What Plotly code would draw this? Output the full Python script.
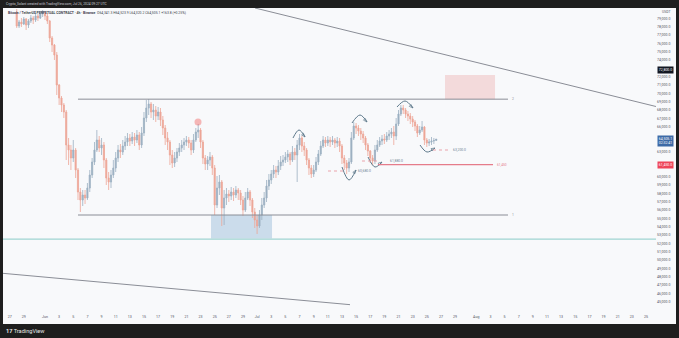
import plotly.graph_objects as go
import pandas as pd

# ---------------- data (8h candles) ----------------
symbol_line = "Bitcoin / TetherUS PERPETUAL CONTRACT · 4h · Binance"
ohlc_line = "O64,341.3 H64,523.9 L64,320.2 C64,505.1 +163.8 (+0.25%)"
first_open = 79760
start_time = "2024-05-28 00:00"

close = [78080, 78560, 78320, 78920, 78200, 78680, 79040, 78800, 79280, 79040,
         79520, 79640, 79280, 78680, 76640, 75800, 74600, 71000, 69440, 68600,
         67760, 63800, 63200, 62240, 63200, 60800, 58160, 57200, 57800, 57440,
         58640, 60200, 61760, 63200, 64400, 63440, 63800, 62000, 59840, 59360,
         60200, 61040, 62240, 63200, 62960, 63680, 64160, 64640, 64280, 64760,
         64400, 65000, 63800, 65240, 67040, 68240, 68720, 67760, 68000, 67280,
         67760, 66800, 65840, 64640, 64160, 62600, 61640, 62240, 62960, 63440,
         63800, 64160, 64400, 64040, 63200, 64400, 65360, 65600, 64160, 62240,
         61520, 62000, 62360, 61040, 56600, 58640, 59360, 56240, 57440, 57920,
         57680, 58160, 57800, 58400, 58040, 57200, 56000, 57440, 58160, 57200,
         55760, 54800, 54080, 55400, 56600, 57440, 58880, 59600, 60320, 60800,
         60560, 61280, 61760, 62000, 62360, 62720, 62000, 62960, 62600, 63800,
         64640, 63680, 63200, 62000, 61040, 60320, 60800, 61760, 62720, 63680,
         64400, 64040, 64400, 64160, 64400, 64040, 64280, 63680, 62240, 61640,
         61040, 61760, 64640, 66080, 65840, 65480, 65120, 64640, 63800, 63080,
         62240, 61880, 63200, 63800, 64280, 64520, 64400, 64880, 65120, 65360,
         64880, 66320, 67520, 68240, 68000, 67520, 67280, 66920, 66560, 66080,
         65240, 65600, 65960, 64400, 64040, 64160, 64280, 64341.3, 64505.1]

high = [80120, 78800, 79040, 79160, 79040, 78920, 79400, 79280, 79640, 79520,
        79880, 80000, 79880, 79640, 78800, 76880, 75920, 74960, 71120, 69680,
        68840, 68000, 64640, 63800, 64400, 63440, 61040, 58640, 58400, 58400,
        59240, 60800, 62240, 64160, 65600, 64880, 64640, 64160, 62240, 60560,
        60800, 62000, 62960, 63800, 63920, 64400, 64880, 65240, 65120, 65360,
        65240, 65600, 65360, 65960, 67760, 69200, 69320, 68960, 68720, 68480,
        68360, 68240, 67280, 66200, 65360, 64400, 63200, 62960, 63440, 64040,
        64400, 64640, 64880, 64760, 64400, 65120, 65840, 66320, 65840, 64400,
        62600, 62480, 62960, 62600, 61400, 60080, 60200, 59600, 58400, 58640,
        58400, 58760, 58640, 58880, 58640, 58400, 57680, 58160, 58640, 58400,
        57440, 56240, 55400, 56000, 57440, 58160, 59600, 60320, 60800, 61400,
        61280, 62000, 62480, 62600, 62960, 63200, 62960, 63680, 63440, 64400,
        65120, 64880, 64160, 63440, 62240, 61400, 61400, 62360, 63200, 64280,
        64880, 64760, 64880, 64760, 64880, 64640, 64760, 64640, 63920, 62600,
        62000, 62240, 65360, 66560, 66440, 66200, 65840, 65480, 64880, 64040,
        63200, 62600, 63800, 64400, 64760, 65000, 65120, 65360, 65600, 65840,
        66080, 67040, 68000, 68600, 68600, 68240, 67880, 67640, 67280, 66800,
        66320, 66080, 66680, 66080, 64640, 64520, 64760, 64640, 64523.9]

low = [77840, 77840, 77960, 78200, 77600, 77840, 78440, 78320, 78560, 78680,
       78920, 79160, 78800, 78320, 76160, 74960, 74000, 69800, 68600, 67760,
       67040, 62000, 61400, 60800, 61760, 59840, 57200, 55760, 56480, 56720,
       57200, 58160, 59840, 61400, 62960, 62960, 62600, 61040, 59000, 58400,
       58640, 59840, 60560, 61760, 62240, 62600, 63200, 63680, 63680, 63920,
       63680, 64040, 63200, 63440, 64880, 66560, 67400, 67040, 66800, 66560,
       66800, 66080, 65000, 63800, 63200, 61400, 61040, 61160, 61760, 62480,
       62960, 63200, 63680, 63440, 62600, 62840, 64160, 64640, 63440, 61520,
       60800, 60800, 61280, 60200, 55400, 56240, 57800, 54080, 54200, 56600,
       56960, 57200, 57080, 57440, 57200, 56600, 55280, 55760, 57200, 56480,
       55040, 53840, 53120, 53840, 54800, 56240, 56960, 58400, 59120, 59840,
       59840, 60200, 60800, 61280, 61640, 61760, 61400, 61760, 62000, 59360,
       63200, 62960, 62480, 61400, 60200, 59840, 59960, 60560, 61400, 62480,
       63440, 63560, 63680, 63560, 63800, 63440, 63560, 62960, 61520, 60800,
       60320, 60560, 61520, 64400, 65120, 64880, 64400, 64040, 63200, 62480,
       61640, 61400, 61520, 62960, 63560, 63800, 63920, 64160, 64400, 64640,
       63800, 64400, 66080, 67280, 67520, 67040, 66680, 66320, 65960, 65480,
       64760, 65000, 65360, 63800, 63560, 63680, 63800, 63920, 64320.2]

last_price = 64505.1
countdown = "02:32:41"
marker_price = 72800
price_ticks_all = list(range(45000, 80000, 1000))
month_ticks = {"2024-06-01": "Jun", "2024-07-01": "Jul", "2024-08-01": "Aug"}

# ---------------- drawings (TradingView objects, data coordinates) ----------------
range_top, range_bottom = 69300, 55400
range_x = ("2024-06-05 16:00", "2024-08-05 11:40")
red_level = 61450
red_x = ("2024-07-18 02:20", "2024-08-03 08:50")
teal_level = 52500
pink_box = ("2024-07-27 13:50", "2024-08-03 15:40", 69300, 72200)
blue_box = ("2024-06-24 11:30", "2024-07-03 02:40", 52580, 55400)
upper_trend = (("2024-06-30 16:50", 80240), ("2024-08-26 10:00", 68420))
lower_trend = (("2024-05-26 01:30", 48400), ("2024-07-14 03:20", 44640))
circle_pt = ("2024-06-22 15:25", 66560)
arcs = [
    (["2024-07-06 01:54", "2024-07-06 22:12", "2024-07-07 18:36"], [64640, 65600, 64760]),
    (["2024-07-13 00:12", "2024-07-14 00:00", "2024-07-14 23:42"], [61160, 59600, 60800]),
    (["2024-07-14 10:06", "2024-07-15 13:18", "2024-07-16 13:06"], [66440, 67400, 66560]),
    (["2024-07-16 16:30", "2024-07-17 16:12", "2024-07-18 16:00"], [62360, 61160, 61760]),
    (["2024-07-20 18:54", "2024-07-21 22:06", "2024-07-23 01:12"], [68360, 69080, 68240]),
    (["2024-07-24 01:00", "2024-07-25 00:42", "2024-07-26 03:54"], [63800, 62960, 63440]),
]
dotted = [
    ("2024-07-11 00:40", "2024-07-13 10:20", 60680, "2024-07-16 03:00"),
    ("2024-07-15 20:00", "2024-07-17 23:00", 61880, "2024-07-20 15:30"),
    ("2024-07-25 21:00", "2024-07-28 06:50", 63200, "2024-07-29 13:30"),
]

# ---------------- figure ----------------
W, H = 679, 338
ML, MR, MT, MB = 3, 23, 8, 25
PW, PH = W - ML - MR, H - MT - MB


def px_x(p):
    return (p - ML) / PW


def px_y(p):
    return (H - MB - p) / PH


opens = [first_open] + close[:-1]
times = pd.date_range(start_time, periods=len(close), freq="8h")

UP, DOWN = "#9cb0c2", "#eda697"
FONT = "Roboto, Arial, sans-serif"
BG = "#f8f9fb"
DARK = "#1e1e1e"
GREY = "#8a8d96"

fig = go.Figure()
fig.add_trace(go.Candlestick(
    x=times, open=opens, high=high, low=low, close=close,
    increasing=dict(line=dict(color=UP, width=0.8), fillcolor=UP),
    decreasing=dict(line=dict(color=DOWN, width=0.8), fillcolor=DOWN),
    whiskerwidth=0, showlegend=False, hoverinfo="skip"))

for xs, ys in arcs:
    fig.add_trace(go.Scatter(
        x=xs, y=ys, mode="lines+markers",
        line=dict(color="#5f7a8c", width=1, shape="spline"),
        marker=dict(symbol="arrow-open", size=[0, 0, 4], angleref="previous",
                    color="#5f7a8c", line=dict(color="#5f7a8c", width=1)),
        showlegend=False, hoverinfo="skip"))

fig.add_trace(go.Scatter(
    x=[circle_pt[0]], y=[circle_pt[1]], mode="markers",
    marker=dict(size=7, color="rgba(239,83,80,0.4)"),
    showlegend=False, hoverinfo="skip"))

shapes = [
    dict(type="rect", xref="paper", yref="paper", x0=0, x1=px_x(676),
         y0=px_y(324), y1=1, fillcolor=BG, line=dict(width=0), layer="below"),
    dict(type="rect", xref="x", yref="y", x0=blue_box[0], x1=blue_box[1],
         y0=blue_box[2], y1=blue_box[3], fillcolor="rgba(120,165,205,0.35)",
         line=dict(width=0), layer="below"),
    dict(type="rect", xref="x", yref="y", x0=pink_box[0], x1=pink_box[1],
         y0=pink_box[2], y1=pink_box[3], fillcolor="rgba(236,160,160,0.35)",
         line=dict(width=0), layer="below"),
    dict(type="line", xref="x", yref="y", x0=range_x[0], x1=range_x[1],
         y0=range_top, y1=range_top, line=dict(color=GREY, width=1)),
    dict(type="line", xref="x", yref="y", x0=range_x[0], x1=range_x[1],
         y0=range_bottom, y1=range_bottom, line=dict(color=GREY, width=1)),
    dict(type="line", xref="x", yref="y", x0=red_x[0], x1=red_x[1],
         y0=red_level, y1=red_level, line=dict(color="#e57c8a", width=1.2)),
    dict(type="line", xref="paper", yref="y", x0=0, x1=1,
         y0=teal_level, y1=teal_level, line=dict(color="#9fd4d2", width=1.2)),
    dict(type="line", xref="x", yref="y", x0=upper_trend[0][0], y0=upper_trend[0][1],
         x1=upper_trend[1][0], y1=upper_trend[1][1], line=dict(color=GREY, width=1)),
    dict(type="line", xref="x", yref="y", x0=lower_trend[0][0], y0=lower_trend[0][1],
         x1=lower_trend[1][0], y1=lower_trend[1][1], line=dict(color=GREY, width=1)),
]
for x0, x1, lvl, _ in dotted:
    shapes.append(dict(type="line", xref="x", yref="y", x0=x0, x1=x1, y0=lvl, y1=lvl,
                       line=dict(color="#eaa3ab", width=1, dash="dot")))

ann = []
small = dict(family=FONT, size=3.4, color="#6f8598")
for _, _, lvl, lx in dotted:
    ann.append(dict(x=lx, y=lvl, xref="x", yref="y", text=f"{lvl:,.1f}",
                    showarrow=False, font=small))
ann.append(dict(x="2024-08-04 16:00", y=red_level, xref="x", yref="y",
                text=f"{red_level:,.0f}", showarrow=False,
                font=dict(family=FONT, size=3.2, color="#e57c8a")))
for lvl, t in ((range_top, "2"), (range_bottom, "1")):
    ann.append(dict(x="2024-08-06 06:00", y=lvl, xref="x", yref="y", text=t,
                    showarrow=False, font=dict(family=FONT, size=3.4, color=GREY)))

# header / footer / legend
ann.append(dict(x=px_x(4), y=px_y(4), xref="paper", yref="paper", xanchor="left",
                yanchor="middle", showarrow=False,
                text="Crypto_Solant created with TradingView.com, Jul 26, 2024 09:27 UTC",
                font=dict(family=FONT, size=3.3, color="#c9ccd4")))
ann.append(dict(x=px_x(6), y=px_y(12.5), xref="paper", yref="paper", xanchor="left",
                yanchor="middle", showarrow=False,
                text=f"<b>{symbol_line}</b>  {ohlc_line}",
                font=dict(family=FONT, size=3.4, color="#3b3f4b")))
ann.append(dict(x=px_x(4), y=px_y(330.5), xref="paper", yref="paper", xanchor="left",
                yanchor="middle", showarrow=False,
                text="<b>17</b> TradingView",
                font=dict(family=FONT, size=5.6, color="#e8e8e8")))
ann.append(dict(x=px_x(666), y=px_y(12), xref="paper", yref="paper", xanchor="center",
                yanchor="middle", showarrow=False, text="USDT",
                font=dict(family=FONT, size=3.4, color="#50535e")))


# price-scale labels
def axis_label(price, text, bg):
    return dict(x=px_x(657), y=price, xref="paper", yref="y", xanchor="left",
                yanchor="middle", showarrow=False, text=text, bgcolor=bg,
                borderpad=0.8, align="left",
                font=dict(family=FONT, size=3.5, color="#ffffff"))


ann.append(axis_label(marker_price, f"{marker_price:,.1f}", "#131722"))
ann.append(axis_label(last_price - 200, f"{last_price:,.1f}<br>{countdown}", "#3d6aa6"))
ann.append(axis_label(red_level, f"{red_level:,.1f}", "#ee4458"))

# hide regular price ticks hidden behind the highlighted labels (as TradingView does)
busy = [(marker_price, 600), (last_price - 200, 900), (red_level, 650)]
price_ticks = [v for v in price_ticks_all if all(abs(v - c) >= r for c, r in busy)]

# x ticks every two days
tick_vals, tick_text = [], []
for d in pd.date_range("2024-05-27", "2024-08-25", freq="D"):
    key = d.strftime("%Y-%m-%d")
    if key in month_ticks:
        tick_vals.append(d); tick_text.append(month_ticks[key])
    elif d.day % 2 == 1 and d.day != 31:
        tick_vals.append(d); tick_text.append(str(d.day))

fig.update_layout(
    width=W, height=H, margin=dict(l=ML, r=MR, t=MT, b=MB),
    paper_bgcolor=DARK, plot_bgcolor=BG, showlegend=False,
    shapes=shapes, annotations=ann,
    xaxis=dict(type="date", range=["2024-05-26 01:26", "2024-08-26 10:05"],
               rangeslider=dict(visible=False), showgrid=False, zeroline=False,
               showline=False, tickvals=tick_vals, ticktext=tick_text, ticks="",
               tickfont=dict(family=FONT, size=3.6, color="#50535e")),
    yaxis=dict(range=[43640, 80240], side="right", showgrid=False, zeroline=False,
               showline=False, tickvals=price_ticks,
               ticktext=[f"{v:,.1f}" for v in price_ticks], ticks="",
               tickfont=dict(family=FONT, size=3.5, color="#50535e")),
)

fig.write_html("out.html")
